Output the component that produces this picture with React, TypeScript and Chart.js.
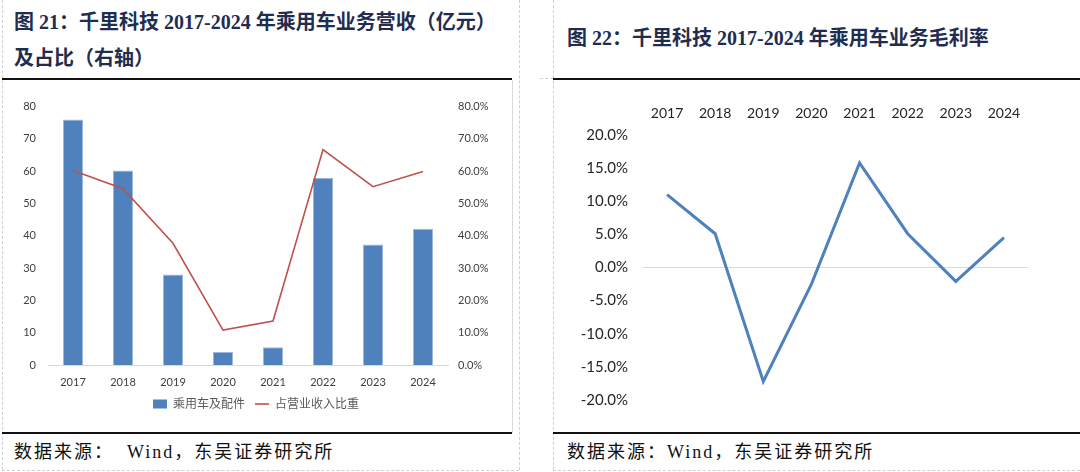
import React, { useEffect, useRef } from "react";
import { Chart, registerables } from "chart.js";

Chart.register(...registerables);

const years = ["2017", "2018", "2019", "2020", "2021", "2022", "2023", "2024"];
const revenue = [76, 60.2, 28, 4, 5.5, 58, 37.3, 42.2];
const share = [0.602, 0.546, 0.377, 0.108, 0.136, 0.667, 0.552, 0.599];
const margin = [0.11, 0.051, -0.172, -0.025, 0.158, 0.051, -0.021, 0.045];

const leftTitle1 = "图 21：千里科技 2017-2024 年乘用车业务营收（亿元）";
const leftTitle2 = "及占比（右轴）";
const rightTitle = "图 22：千里科技 2017-2024 年乘用车业务毛利率";
const sourceLeft = "数据来源：  Wind，东吴证券研究所";
const sourceRight = "数据来源：Wind，东吴证券研究所";
const barLabel = "乘用车及配件";
const lineLabel = "占营业收入比重";

const TICK_FONT = "Lato, 'Noto Sans', 'Noto Sans CJK SC', sans-serif";
const TITLE_FONT = "'Liberation Serif', 'Noto Sans CJK SC', serif";

function LeftChart() {
  const ref = useRef<HTMLCanvasElement | null>(null);
  useEffect(() => {
    const chart = new Chart(ref.current as HTMLCanvasElement, {
      type: "bar",
      data: {
        labels: years,
        datasets: [
          {
            type: "line",
            label: lineLabel,
            data: share,
            yAxisID: "y1",
            borderColor: "#C0504D",
            backgroundColor: "#C0504D",
            borderWidth: 1.6,
            pointRadius: 0,
            tension: 0,
            order: 0,
          } as any,
          {
            type: "bar",
            label: barLabel,
            data: revenue,
            yAxisID: "y",
            backgroundColor: "#4F81BD",
            borderColor: "#9DB8DD",
            borderWidth: 1,
            barPercentage: 0.4,
            categoryPercentage: 1,
            order: 1,
          } as any,
        ],
      },
      options: {
        animation: false,
        responsive: false,
        maintainAspectRatio: false,
        devicePixelRatio: 1,
        layout: { padding: { top: 18, left: 0, right: 0, bottom: 10 } },
        plugins: {
          tooltip: { enabled: false },
          legend: {
            position: "bottom",
            reverse: true,
            labels: {
              color: "#595959",
              font: { family: TICK_FONT, size: 12 },
              usePointStyle: true,
              pointStyleWidth: 14,
              boxHeight: 9,
              padding: 10,
              generateLabels: (c: any) => {
                const ds = c.data.datasets;
                return ds.map((d: any, i: number) => ({
                  text: d.label,
                  fillStyle: d.type === "bar" ? "#4F81BD" : "#C0504D",
                  strokeStyle: d.type === "bar" ? "#4F81BD" : "#C0504D",
                  lineWidth: d.type === "bar" ? 0 : 1.6,
                  pointStyle: d.type === "bar" ? "rect" : "line",
                  datasetIndex: i,
                  hidden: false,
                  fontColor: "#595959",
                }));
              },
            },
          },
        },
        scales: {
          x: {
            grid: { display: false, drawTicks: false },
            border: { display: true, color: "#D9D9D9", width: 1 },
            ticks: { color: "#404040", font: { family: TICK_FONT, size: 11 }, padding: 11 },
            afterFit: (s: any) => {
              s.height = 23;
            },
          },
          y: {
            position: "left",
            min: 0,
            max: 80,
            grid: { display: false, drawTicks: false },
            border: { display: false },
            ticks: { stepSize: 10, color: "#404040", font: { family: TICK_FONT, size: 11 }, padding: 12 },
            afterFit: (s: any) => {
              s.width = 48;
            },
          },
          y1: {
            position: "right",
            min: 0,
            max: 0.8,
            grid: { display: false, drawTicks: false },
            border: { display: false },
            ticks: {
              stepSize: 0.1,
              color: "#404040",
              font: { family: TICK_FONT, size: 11 },
              padding: 10,
              callback: (v: any) => (Number(v) * 100).toFixed(1) + "%",
            },
            afterFit: (s: any) => {
              s.width = 64;
            },
          },
        },
      } as any,
    });
    return () => chart.destroy();
  }, []);
  return (
    <canvas
      ref={ref}
      width={512}
      height={342}
      style={{ position: "absolute", left: 0, top: 88, width: 512, height: 342 }}
    />
  );
}

function RightChart() {
  const ref = useRef<HTMLCanvasElement | null>(null);
  useEffect(() => {
    const chart = new Chart(ref.current as HTMLCanvasElement, {
      type: "line",
      data: {
        labels: years,
        datasets: [
          {
            label: "毛利率",
            data: margin,
            borderColor: "#4F81BD",
            backgroundColor: "#4F81BD",
            borderWidth: 3,
            pointRadius: 0,
            tension: 0,
          },
        ],
      },
      options: {
        animation: false,
        responsive: false,
        maintainAspectRatio: false,
        devicePixelRatio: 1,
        layout: { padding: { top: 0, left: 0, right: 52, bottom: 30 } },
        plugins: { legend: { display: false }, tooltip: { enabled: false } },
        scales: {
          x: {
            position: "top",
            offset: true,
            grid: { display: false, drawTicks: false },
            border: { display: false },
            ticks: { color: "#262626", font: { family: TICK_FONT, size: 14 }, padding: 13 },
            afterFit: (s: any) => {
              s.height = 47;
            },
          },
          y: {
            min: -0.2,
            max: 0.2,
            grid: {
              drawTicks: false,
              color: (c: any) => (c.tick && Math.abs(c.tick.value) < 1e-9 ? "#D9D9D9" : "rgba(0,0,0,0)"),
              lineWidth: 1,
            },
            border: { display: false },
            ticks: {
              stepSize: 0.05,
              color: "#262626",
              font: { family: TICK_FONT, size: 15 },
              padding: 15,
              callback: (v: any) => (Number(v) * 100).toFixed(1) + "%",
            },
            afterFit: (s: any) => {
              s.width = 90;
            },
          },
        },
      } as any,
    });
    return () => chart.destroy();
  }, []);
  return (
    <canvas
      ref={ref}
      width={527}
      height={342}
      style={{ position: "absolute", left: 553, top: 88, width: 527, height: 342 }}
    />
  );
}

export default function App() {
  const titleStyle: React.CSSProperties = {
    position: "absolute",
    fontFamily: TITLE_FONT,
    fontWeight: "bold",
    fontSize: 20,
    color: "#1F2D50",
    whiteSpace: "pre",
    lineHeight: "24px",
    margin: 0,
  };
  const srcStyle: React.CSSProperties = {
    position: "absolute",
    fontFamily: TITLE_FONT,
    fontSize: 18,
    letterSpacing: 2,
    color: "#111",
    whiteSpace: "pre",
    lineHeight: "22px",
  };
  const dashV = (x: number, y0: number, y1: number): React.CSSProperties => ({
    position: "absolute",
    left: x,
    top: y0,
    height: y1 - y0,
    width: 0,
    borderLeft: "1px dashed #D0D0D0",
  });
  const dashH = (y: number, x0: number, x1: number): React.CSSProperties => ({
    position: "absolute",
    left: x0,
    top: y,
    width: x1 - x0,
    height: 0,
    borderTop: "1px dashed #D0D0D0",
  });
  return (
    <div
      style={{
        position: "absolute",
        left: 0,
        top: 0,
        width: 1080,
        height: 472,
        background: "#fff",
        overflow: "hidden",
      }}
    >
      <div style={dashV(2, 0, 470)} />
      <div style={dashV(519, 0, 470)} />
      <div style={{ position: "absolute", left: 512, top: 80, width: 0, height: 353, borderLeft: "1px solid #D9D9D9" }} />
      <div style={dashV(553, 0, 470)} />
      <div style={dashH(470, 2, 519)} />
      <div style={dashH(470, 553, 1080)} />
      <div style={dashH(78, 540, 553)} />

      <div style={{ ...titleStyle, left: 14, top: 10 }}>{leftTitle1}</div>
      <div style={{ ...titleStyle, left: 14, top: 46 }}>{leftTitle2}</div>
      <div style={{ ...titleStyle, left: 567, top: 26 }}>{rightTitle}</div>

      <div style={{ position: "absolute", left: 2, top: 78, width: 510, height: 2, background: "#111" }} />
      <div style={{ position: "absolute", left: 553, top: 78, width: 527, height: 2, background: "#111" }} />

      <LeftChart />
      <RightChart />

      <div style={{ position: "absolute", left: 2, top: 432, width: 510, height: 2, background: "#111" }} />
      <div style={{ position: "absolute", left: 553, top: 432, width: 527, height: 2, background: "#111" }} />

      <div style={{ ...srcStyle, left: 14, top: 441 }}>{sourceLeft}</div>
      <div style={{ ...srcStyle, left: 567, top: 441 }}>{sourceRight}</div>
    </div>
  );
}
